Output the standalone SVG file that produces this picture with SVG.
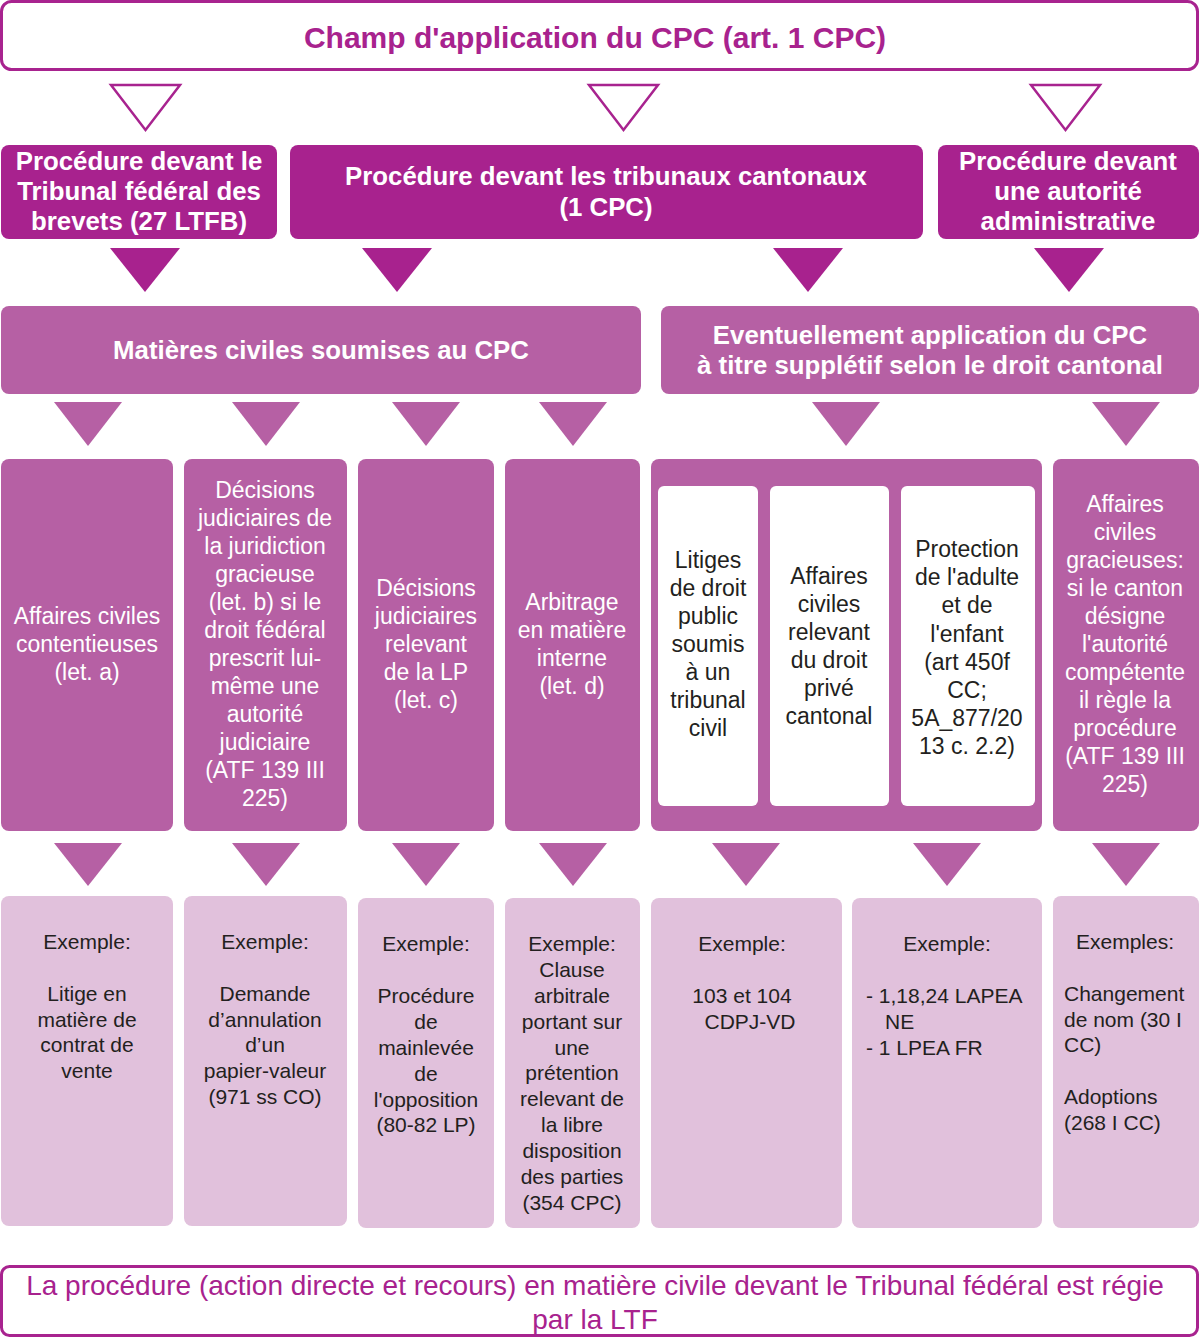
<svg xmlns="http://www.w3.org/2000/svg" width="1200" height="1343" viewBox="0 0 1200 1343">
  <style>
    .frame { fill: #ffffff; stroke: #a8238f; stroke-width: 3; }
    .dark { fill: #a8228e; }
    .mid { fill: #b660a4; }
    .light { fill: #e1c1dc; }
    .inner { fill: #ffffff; }
    .tri-open { fill: #ffffff; stroke: #a8238f; stroke-width: 2.5; stroke-linejoin: miter; }
    .tri-dark { fill: #a8228e; }
    .tri-mid { fill: #b660a4; }
    text { font-family: "Liberation Sans", Arial, Helvetica, sans-serif; text-anchor: middle; }
    .title { font-size: 30px; font-weight: bold; fill: #a8228e; }
    .head { font-size: 25.8px; font-weight: bold; fill: #ffffff; }
    .body { font-size: 23px; fill: #ffffff; }
    .bodyk { font-size: 23px; fill: #231f20; }
    .ex { font-size: 21px; fill: #231f20; }
    .exl { font-size: 21px; fill: #231f20; text-anchor: start; }
    .foot { font-size: 28px; fill: #a8228e; }
  </style>

  <!-- top frame -->
  <g id="champ">
    <rect class="frame" x="1.5" y="1.5" width="1196" height="68" rx="10"/>
    <text class="title" x="595" y="48">Champ d'application du CPC (art. 1 CPC)</text>
  </g>

  <!-- second row: procedures -->
  <g id="tfb">
    <rect class="dark" x="1" y="145" width="276" height="94" rx="8"/>
    <text class="head" x="139" y="170">Procédure devant le</text>
    <text class="head" x="139" y="200">Tribunal fédéral des</text>
    <text class="head" x="139" y="230">brevets (27 LTFB)</text>
  </g>
  <g id="cantonaux">
    <rect class="dark" x="290" y="145" width="633" height="94" rx="8"/>
    <text class="head" x="606" y="185">Procédure devant les tribunaux cantonaux</text>
    <text class="head" x="606" y="216">(1 CPC)</text>
  </g>
  <g id="admin">
    <rect class="dark" x="938" y="145" width="261" height="94" rx="8"/>
    <text class="head" x="1068" y="170">Procédure devant</text>
    <text class="head" x="1068" y="200">une autorité</text>
    <text class="head" x="1068" y="230">administrative</text>
  </g>

  <!-- third row -->
  <g id="matieres">
    <rect class="mid" x="1" y="306" width="640" height="88" rx="8"/>
    <text class="head" x="321" y="359">Matières civiles soumises au CPC</text>
  </g>
  <g id="suppletif">
    <rect class="mid" x="661" y="306" width="538" height="88" rx="8"/>
    <text class="head" x="930" y="344">Eventuellement application du CPC</text>
    <text class="head" x="930" y="374">à titre supplétif selon le droit cantonal</text>
  </g>

  <!-- fourth row: categories -->
  <g id="cat-a">
    <rect class="mid" x="1" y="459" width="172" height="372" rx="8"/>
    <text class="body" x="87" y="624">Affaires civiles</text>
    <text class="body" x="87" y="652">contentieuses</text>
    <text class="body" x="87" y="680">(let. a)</text>
  </g>
  <g id="cat-b">
    <rect class="mid" x="184" y="459" width="163" height="372" rx="8"/>
    <text class="body" x="265" y="498">Décisions</text>
    <text class="body" x="265" y="526">judiciaires de</text>
    <text class="body" x="265" y="554">la juridiction</text>
    <text class="body" x="265" y="582">gracieuse</text>
    <text class="body" x="265" y="610">(let. b) si le</text>
    <text class="body" x="265" y="638">droit fédéral</text>
    <text class="body" x="265" y="666">prescrit lui-</text>
    <text class="body" x="265" y="694">même une</text>
    <text class="body" x="265" y="722">autorité</text>
    <text class="body" x="265" y="750">judiciaire</text>
    <text class="body" x="265" y="778">(ATF 139 III</text>
    <text class="body" x="265" y="806">225)</text>
  </g>
  <g id="cat-c">
    <rect class="mid" x="358" y="459" width="136" height="372" rx="8"/>
    <text class="body" x="426" y="596">Décisions</text>
    <text class="body" x="426" y="624">judiciaires</text>
    <text class="body" x="426" y="652">relevant</text>
    <text class="body" x="426" y="680">de la LP</text>
    <text class="body" x="426" y="708">(let. c)</text>
  </g>
  <g id="cat-d">
    <rect class="mid" x="505" y="459" width="135" height="372" rx="8"/>
    <text class="body" x="572" y="610">Arbitrage</text>
    <text class="body" x="572" y="638">en matière</text>
    <text class="body" x="572" y="666">interne</text>
    <text class="body" x="572" y="694">(let. d)</text>
  </g>
  <g id="cat-cantonal">
    <rect class="mid" x="651" y="459" width="391" height="372" rx="8"/>
    <g id="cat-public">
      <rect class="inner" x="658" y="486" width="100" height="320" rx="6"/>
      <text class="bodyk" x="708" y="568">Litiges</text>
      <text class="bodyk" x="708" y="596">de droit</text>
      <text class="bodyk" x="708" y="624">public</text>
      <text class="bodyk" x="708" y="652">soumis</text>
      <text class="bodyk" x="708" y="680">à un</text>
      <text class="bodyk" x="708" y="708">tribunal</text>
      <text class="bodyk" x="708" y="736">civil</text>
    </g>
    <g id="cat-prive">
      <rect class="inner" x="770" y="486" width="119" height="320" rx="6"/>
      <text class="bodyk" x="829" y="584">Affaires</text>
      <text class="bodyk" x="829" y="612">civiles</text>
      <text class="bodyk" x="829" y="640">relevant</text>
      <text class="bodyk" x="829" y="668">du droit</text>
      <text class="bodyk" x="829" y="696">privé</text>
      <text class="bodyk" x="829" y="724">cantonal</text>
    </g>
    <g id="cat-protection">
      <rect class="inner" x="901" y="486" width="134" height="320" rx="6"/>
      <text class="bodyk" x="967" y="557">Protection</text>
      <text class="bodyk" x="967" y="585">de l'adulte</text>
      <text class="bodyk" x="967" y="613">et de</text>
      <text class="bodyk" x="967" y="642">l'enfant</text>
      <text class="bodyk" x="967" y="670">(art 450f</text>
      <text class="bodyk" x="967" y="698">CC;</text>
      <text class="bodyk" x="967" y="726">5A_877/20</text>
      <text class="bodyk" x="967" y="754">13 c. 2.2)</text>
    </g>
  </g>
  <g id="cat-gracieuses">
    <rect class="mid" x="1053" y="459" width="146" height="372" rx="8"/>
    <text class="body" x="1125" y="512">Affaires</text>
    <text class="body" x="1125" y="540">civiles</text>
    <text class="body" x="1125" y="568">gracieuses:</text>
    <text class="body" x="1125" y="596">si le canton</text>
    <text class="body" x="1125" y="624">désigne</text>
    <text class="body" x="1125" y="652">l'autorité</text>
    <text class="body" x="1125" y="680">compétente</text>
    <text class="body" x="1125" y="708">il règle la</text>
    <text class="body" x="1125" y="736">procédure</text>
    <text class="body" x="1125" y="764">(ATF 139 III</text>
    <text class="body" x="1125" y="792">225)</text>
  </g>

  <!-- fifth row: examples -->
  <g id="ex-a">
    <rect class="light" x="1" y="896" width="172" height="330" rx="8"/>
    <text class="ex" x="87" y="949">Exemple:</text>
    <text class="ex" x="87" y="1001">Litige en</text>
    <text class="ex" x="87" y="1027">matière de</text>
    <text class="ex" x="87" y="1052">contrat de</text>
    <text class="ex" x="87" y="1078">vente</text>
  </g>
  <g id="ex-b">
    <rect class="light" x="184" y="896" width="163" height="330" rx="8"/>
    <text class="ex" x="265" y="949">Exemple:</text>
    <text class="ex" x="265" y="1001">Demande</text>
    <text class="ex" x="265" y="1027">d’annulation</text>
    <text class="ex" x="265" y="1052">d’un</text>
    <text class="ex" x="265" y="1078">papier-valeur</text>
    <text class="ex" x="265" y="1104">(971 ss CO)</text>
  </g>
  <g id="ex-c">
    <rect class="light" x="358" y="898" width="136" height="330" rx="8"/>
    <text class="ex" x="426" y="951">Exemple:</text>
    <text class="ex" x="426" y="1003">Procédure</text>
    <text class="ex" x="426" y="1029">de</text>
    <text class="ex" x="426" y="1055">mainlevée</text>
    <text class="ex" x="426" y="1081">de</text>
    <text class="ex" x="426" y="1107">l'opposition</text>
    <text class="ex" x="426" y="1132">(80-82 LP)</text>
  </g>
  <g id="ex-d">
    <rect class="light" x="505" y="898" width="135" height="330" rx="8"/>
    <text class="ex" x="572" y="951">Exemple:</text>
    <text class="ex" x="572" y="977">Clause</text>
    <text class="ex" x="572" y="1003">arbitrale</text>
    <text class="ex" x="572" y="1029">portant sur</text>
    <text class="ex" x="572" y="1055">une</text>
    <text class="ex" x="572" y="1080">prétention</text>
    <text class="ex" x="572" y="1106">relevant de</text>
    <text class="ex" x="572" y="1132">la libre</text>
    <text class="ex" x="572" y="1158">disposition</text>
    <text class="ex" x="572" y="1184">des parties</text>
    <text class="ex" x="572" y="1210">(354 CPC)</text>
  </g>
  <g id="ex-public">
    <rect class="light" x="651" y="898" width="191" height="330" rx="8"/>
    <text class="ex" x="742" y="951">Exemple:</text>
    <text class="ex" x="742" y="1003">103 et 104</text>
    <text class="ex" x="750" y="1029">CDPJ-VD</text>
  </g>
  <g id="ex-protection">
    <rect class="light" x="852" y="898" width="190" height="330" rx="8"/>
    <text class="ex" x="947" y="951">Exemple:</text>
    <text class="exl" x="866" y="1003">- 1,18,24 LAPEA</text>
    <text class="exl" x="885" y="1029">NE</text>
    <text class="exl" x="866" y="1055">- 1 LPEA FR</text>
  </g>
  <g id="ex-gracieuses">
    <rect class="light" x="1053" y="896" width="146" height="332" rx="8"/>
    <text class="ex" x="1125" y="949">Exemples:</text>
    <text class="exl" x="1064" y="1001">Changement</text>
    <text class="exl" x="1064" y="1027">de nom (30 I</text>
    <text class="exl" x="1064" y="1052">CC)</text>
    <text class="exl" x="1064" y="1104">Adoptions</text>
    <text class="exl" x="1064" y="1130">(268 I CC)</text>
  </g>

  <!-- bottom frame -->
  <g id="ltf">
    <rect class="frame" x="1.5" y="1266.5" width="1196" height="69" rx="8"/>
    <text class="foot" x="595" y="1295">La procédure (action directe et recours) en matière civile devant le Tribunal fédéral est régie</text>
    <text class="foot" x="595" y="1329">par la LTF</text>
  </g>

  <!-- connectors: downward triangles -->
  <g id="connectors">
    <polygon class="tri-open" points="111,85 180,85 145.5,130"/>
    <polygon class="tri-open" points="589,85 658,85 623.5,130"/>
    <polygon class="tri-open" points="1031,85 1100,85 1065.5,130"/>

    <polygon class="tri-dark" points="110,248 180,248 145,292"/>
    <polygon class="tri-dark" points="362,248 432,248 397,292"/>
    <polygon class="tri-dark" points="773,248 843,248 808,292"/>
    <polygon class="tri-dark" points="1034,248 1104,248 1069,292"/>

    <polygon class="tri-mid" points="54,402 122,402 88,446"/>
    <polygon class="tri-mid" points="232,402 300,402 266,446"/>
    <polygon class="tri-mid" points="392,402 460,402 426,446"/>
    <polygon class="tri-mid" points="539,402 607,402 573,446"/>
    <polygon class="tri-mid" points="812,402 880,402 846,446"/>
    <polygon class="tri-mid" points="1092,402 1160,402 1126,446"/>

    <polygon class="tri-mid" points="54,843 122,843 88,886"/>
    <polygon class="tri-mid" points="232,843 300,843 266,886"/>
    <polygon class="tri-mid" points="392,843 460,843 426,886"/>
    <polygon class="tri-mid" points="539,843 607,843 573,886"/>
    <polygon class="tri-mid" points="712,843 780,843 746,886"/>
    <polygon class="tri-mid" points="913,843 981,843 947,886"/>
    <polygon class="tri-mid" points="1092,843 1160,843 1126,886"/>
  </g>
</svg>
